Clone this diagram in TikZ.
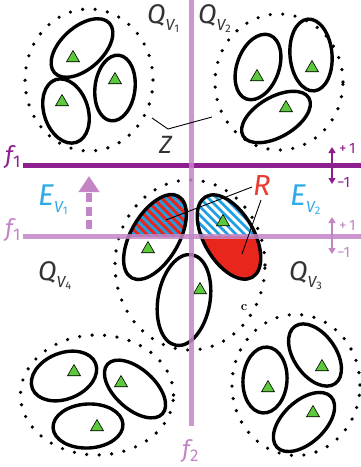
\documentclass[tikz,border=0pt]{standalone}
\usepackage{fontspec}
\setsansfont{Fira Sans}
\usetikzlibrary{shapes.geometric,arrows.meta}

\definecolor{cdark}{HTML}{8E1F8E}
\definecolor{clight}{HTML}{C385C6}
\definecolor{cblue}{HTML}{1E9FE6}
\definecolor{cred}{HTML}{E8261C}
\definecolor{cgreen}{HTML}{5CC83C}
\definecolor{ctext}{HTML}{2EAAE6}
\newcommand{\stripegap}{8.5}

% big letter, subscript letter, sub-subscript digit
\newcommand{\qlab}[4]{{\fontsize{#4}{#4}\selectfont\itshape #1}\raisebox{-7pt}{\fontsize{16}{16}\selectfont\itshape #2}\raisebox{-9pt}{\fontsize{11}{11}\selectfont #3}}
\newcommand{\flab}[2]{{\fontsize{24}{24}\selectfont\itshape #1}\raisebox{-4pt}{\fontsize{17}{17}\selectfont #2}}

\begin{document}
\begin{tikzpicture}[x=1pt, y=-1pt,
    cluster/.style={ellipse, draw, inner sep=0pt, line width=3.6pt, dash pattern=on 0pt off 12.5pt, line cap=round},
    blob/.style 2 args={ellipse, draw, inner sep=0pt, line width=3.4pt, minimum width=2*#1, minimum height=2*#2},
    tri/.style={regular polygon, regular polygon sides=3, minimum size=15pt, inner sep=0pt, fill=cgreen, draw=black, line width=0.6pt},
    fline/.style={line width=5pt},
    lbl/.style={font=\sffamily, anchor=base west, inner sep=0pt},
    pm/.style={font=\sffamily\fontsize{15}{15}\selectfont, anchor=west, inner sep=0pt},
    tick/.style={line width=1.3pt, {Triangle[length=6pt,width=7pt]}-{Triangle[length=6pt,width=7pt]}},
]
\useasboundingbox (0,0) rectangle (361,467);

% --- dotted clusters ---
\node[cluster, minimum width=128pt, minimum height=142pt] (qtl) at (89,80) {};
\node[cluster, minimum width=128pt, minimum height=136pt] (qtr) at (279,82) {};
\node[cluster, minimum width=150pt, minimum height=170pt] (qc) at (190,265) {};
\node[cluster, minimum width=153pt, minimum height=120pt] (qbl) at (97,395) {};
\node[cluster, minimum width=128pt, minimum height=141pt] (qbr) at (296,385) {};

% --- hatched / filled parts of the centre ellipses ---
% left: red on blue
\begin{scope}
    \clip (100,150) rectangle (300,236.5);
    \clip[shift={(155,237)}, rotate=60] (0,0) ellipse [x radius=47, y radius=24];
    \fill[cblue] (100,150) rectangle (300,236.5);
    \foreach \k in {0,...,32} {
        \draw[cred, line width=3pt] (20+\k*\stripegap, 150) -- ++(100,100);
    }
\end{scope}
% right: white on blue
\begin{scope}
    \clip (100,150) rectangle (300,236.5);
    \clip[shift={(229,237)}, rotate=-60] (0,0) ellipse [x radius=46.5, y radius=25];
    \fill[cblue] (100,150) rectangle (300,236.5);
    \foreach \k in {0,...,32} {
        \draw[white, line width=3pt] (20+\k*\stripegap, 150) -- ++(100,100);
    }
\end{scope}
% right: red below
\begin{scope}
    \clip (100,236.5) rectangle (300,320);
    \fill[cred, shift={(229,237)}, rotate=-60] (0,0) ellipse [x radius=46.5, y radius=25];
\end{scope}

% --- ellipses ---
% top left
\node[blob={37pt}{21pt}, rotate=42] (t1) at (82,48) {};
\node[blob={33pt}{20pt}, rotate=83] (t2) at (115,88) {};
\node[blob={33pt}{22pt}, rotate=-72] (t3) at (66,111) {};
% top right
\node[blob={34pt}{21pt}, rotate=70] (r1) at (258,67) {};
\node[blob={36pt}{21pt}, rotate=-85] (r2) at (311,55) {};
\node[blob={38pt}{20pt}, rotate=30] (r3) at (276,117) {};
% centre
\node[blob={47pt}{24pt}, rotate=60] (c1) at (155,237) {};
\node[blob={46.5pt}{25pt}, rotate=-60] (c2) at (229,237) {};
\node[blob={46pt}{26pt}, rotate=80] (c3) at (184,300) {};
% bottom left
\node[blob={34pt}{23pt}, rotate=22] (l1) at (64,376) {};
\node[blob={37pt}{20pt}, rotate=-42] (l2) at (135,389) {};
\node[blob={35pt}{22pt}, rotate=3] (l3) at (88,426) {};
% bottom right
\node[blob={33pt}{22pt}, rotate=86] (b1) at (265,380) {};
\node[blob={35pt}{21pt}, rotate=-55] (b2) at (315,355) {};
\node[blob={37pt}{21pt}, rotate=43] (b3) at (304,422) {};

% --- green marks ---
\foreach \p [count=\i] in {(73,58),(115,80),(62,102),(257,77),(312,68),(286,108),
    (148,249),(223,222),(200,290),(74,372),(121,383),(97,427),(268,388),(322,367),(313,413)} {
    \node[tri] (m\i) at \p {};
}

% --- f lines ---
\coordinate (f1a) at (23,165);
\coordinate (f1b) at (361,165);
\coordinate (g1a) at (23,236.5);
\coordinate (g1b) at (361,236.5);
\coordinate (f2a) at (191,0);
\coordinate (f2b) at (191,426);
\draw[fline, cdark] (f1a) -- (f1b);
\draw[fline, clight, opacity=0.85] (g1a) -- (g1b);
\draw[fline, clight, opacity=0.85] (f2a) -- (f2b);

% dashed shift arrow
\coordinate (eb) at (89,229);
\coordinate (et) at (89,176);
\draw[clight, line width=6pt, dash pattern=on 9pt off 4.5pt, -{Triangle[length=16pt,width=20pt]}] (eb) -- (et);

% +1 / -1 ticks
\coordinate (da) at (332,147);
\coordinate (db) at (332,184);
\coordinate (la) at (332,217);
\coordinate (lb) at (332,254);
\draw[tick, cdark] (da) -- (db);
\draw[tick, clight] (la) -- (lb);
\node[pm, text=cdark] (p1) at (339,148) {+\,1};
\node[pm, text=cdark] (n1) at (337,182) {−1};
\node[pm, text=clight] (p2) at (339,225) {+\,1};
\node[pm, text=clight] (n2) at (337,252) {−1};

% --- pointers ---
\coordinate (za) at (152,118);
\coordinate (zk) at (168,129);
\coordinate (zb) at (212,117);
\draw[line width=0.9pt] (za) -- (zk) -- (zb);
\coordinate (r1s) at (252,187);
\coordinate (r1e) at (166,220);
\coordinate (r2s) at (261,200);
\coordinate (r2e) at (242,254);
\draw[line width=0.9pt] (r1s) -- (r1e);
\draw[line width=0.9pt] (r2s) -- (r2e);

% --- labels ---
\node[lbl, text=black!80] (lq1) at (147,23) {\qlab{Q}{V}{1}{27}};
\node[lbl, text=black!80] (lq2) at (198,23) {\qlab{Q}{V}{2}{27}};
\node[lbl, text=black!80] (lq4) at (38,280) {\qlab{Q}{V}{4}{27}};
\node[lbl, text=black!80] (lq3) at (289,280) {\qlab{Q}{V}{3}{27}};
\node[lbl, text=ctext] (le1) at (38,205) {\qlab{E}{V}{1}{30}};
\node[lbl, text=ctext] (le2) at (290,205) {\qlab{E}{V}{2}{30}};
\node[lbl, text=black!80, font=\sffamily\itshape\fontsize{25}{25}\selectfont] (lz) at (159,153) {Z};
\node[lbl, text=cred!90!white, font=\sffamily\itshape\fontsize{29}{29}\selectfont] (lr) at (253,195) {R};
\node[lbl, text=cdark] (lf1) at (5,163) {\flab{f}{1}};
\node[lbl, text=clight] (lg1) at (5,236) {\flab{f}{1}};
\node[lbl, text=clight] (lf2) at (182,457) {\flab{f}{2}};
\node[font=\rmfamily\bfseries\fontsize{13}{13}\selectfont, inner sep=0pt] (lc) at (244,308) {c};

\end{tikzpicture}
\end{document}
